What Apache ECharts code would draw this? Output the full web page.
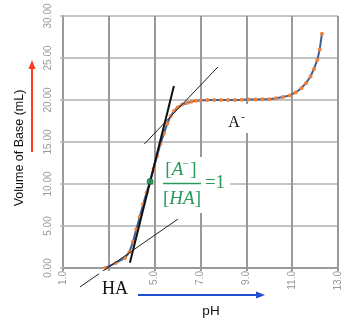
<!DOCTYPE html>
<html>
<head>
<meta charset="utf-8">
<script src="https://cdn.jsdelivr.net/npm/echarts/dist/echarts.min.js"></script>
<style>
  html, body { margin: 0; padding: 0; background: #fff; }
  #chart { width: 346px; height: 322px; }
</style>
</head>
<body>
<div id="chart"></div>
<script>
// titration curve, drawn pH across / volume up
var phValues = [2.85, 3.3, 3.7, 3.9, 4.05, 4.2, 4.35, 4.5, 4.65, 4.8, 4.95, 5.1, 5.25, 5.4, 5.55, 5.7, 5.85, 6.0, 6.2, 6.4, 6.6, 6.8, 7.0, 7.3, 7.6, 7.9, 8.2, 8.5, 8.8, 9.1, 9.4, 9.7, 10.0, 10.3, 10.6, 10.9, 11.15, 11.4, 11.6, 11.8, 11.95, 12.1, 12.2, 12.3];
var volValues = [0.0, 0.6, 1.2, 1.9, 3.1, 4.6, 6.1, 7.6, 9.0, 10.3, 11.8, 13.3, 14.8, 16.0, 17.2, 18.1, 18.7, 19.1, 19.45, 19.65, 19.8, 19.9, 19.95, 20.0, 20.0, 20.0, 20.0, 20.0, 20.02, 20.05, 20.05, 20.1, 20.1, 20.2, 20.35, 20.55, 20.9, 21.4, 22.0, 22.8, 23.7, 24.8, 26.0, 27.9];

// tangent / guide lines [pH, mL]
var steepLine = [[3.92, 0.63], [5.84, 21.67]];
var lowerTangent = [[1.74, -2.26], [6.02, 5.83]];
var upperTangent = [[4.55, 14.76], [7.76, 23.93]];
var halfEqPoint = [[4.8, 10.3]];

var xTicks = { min: 1, max: 13, step: 2 };
var yTicks = { min: 0, max: 30, step: 5 };

var green = '#2a9a5c';
var serif = '"Liberation Serif", "DejaVu Serif", serif';

var curveData = phValues.map(function(p, i) { return [p, volValues[i]]; });

var chart = echarts.init(document.getElementById('chart'));
chart.setOption({
  animation: false,
  grid: { left: 63, right: 8, top: 16, bottom: 54 },
  xAxis: {
    type: 'value',
    min: xTicks.min,
    max: xTicks.max,
    interval: xTicks.step,
    axisLine: { show: true, lineStyle: { color: '#9a9a9a', width: 2 } },
    axisTick: { show: true, length: 3, lineStyle: { color: '#9a9a9a', width: 2 } },
    axisLabel: {
      rotate: 90,
      margin: 3,
      color: '#999',
      fontSize: 10,
      fontFamily: 'Liberation Sans, Arial, sans-serif',
      formatter: function(v) { return v.toFixed(1); }
    },
    splitLine: { show: true, lineStyle: { color: '#9a9a9a', width: 2 } }
  },
  yAxis: {
    type: 'value',
    min: yTicks.min,
    max: yTicks.max,
    interval: yTicks.step,
    axisLine: { show: true, lineStyle: { color: '#9a9a9a', width: 2 } },
    axisTick: { show: true, length: 3, lineStyle: { color: '#c4c4c4', width: 2 } },
    axisLabel: {
      rotate: 90,
      margin: 10,
      color: '#999',
      fontSize: 10,
      fontFamily: 'Liberation Sans, Arial, sans-serif',
      formatter: function(v) { return v.toFixed(2); }
    },
    splitLine: { show: true, lineStyle: { color: '#c4c4c4', width: 2 } }
  },
  series: [
    {
      type: 'line',
      data: curveData,
      symbol: 'circle',
      symbolSize: 4,
      showSymbol: true,
      lineStyle: { color: '#3d5f91', width: 2 },
      itemStyle: { color: '#f0803c' },
      z: 3
    },
    {
      type: 'line',
      data: steepLine,
      symbol: 'none',
      clip: false,
      lineStyle: { color: '#111', width: 2 },
      z: 4
    },
    {
      type: 'line',
      data: lowerTangent,
      symbol: 'none',
      clip: false,
      lineStyle: { color: '#222', width: 1 },
      z: 4
    },
    {
      type: 'line',
      data: upperTangent,
      symbol: 'none',
      clip: false,
      lineStyle: { color: '#222', width: 1 },
      z: 4
    },
    {
      type: 'scatter',
      data: halfEqPoint,
      symbolSize: 6,
      itemStyle: { color: '#1fa463', borderColor: '#0d5a34', borderWidth: 1 },
      z: 5
    }
  ],
  graphic: [
    // white boxes behind the labels (hide gridlines)
    { type: 'rect', z: 1, shape: { x: 156, y: 157, width: 74, height: 56 }, style: { fill: '#fff' } },
    { type: 'rect', z: 1, shape: { x: 216, y: 104, width: 36, height: 29 }, style: { fill: '#fff' } },
    { type: 'rect', z: 10, shape: { x: 99, y: 271, width: 33, height: 28 }, style: { fill: '#fff' } },

    // y axis title + red arrow
    {
      type: 'text', z: 10, x: 20, y: 148, rotation: Math.PI / 2,
      style: { text: 'Volume of Base (mL)', fill: '#111', font: '12.5px "Liberation Sans", Arial, sans-serif', align: 'center', verticalAlign: 'middle' }
    },
    { type: 'polyline', z: 10, shape: { points: [[32, 152], [32, 67]] }, style: { stroke: '#ff3b1f', lineWidth: 2 } },
    { type: 'polygon', z: 10, shape: { points: [[32, 60], [28.5, 69], [35.5, 69]] }, style: { fill: '#ff3b1f' } },

    // x axis title + blue arrow
    {
      type: 'text', z: 10, x: 211, y: 311,
      style: { text: 'pH', fill: '#111', font: '13.5px "Liberation Sans", Arial, sans-serif', align: 'center', verticalAlign: 'middle' }
    },
    { type: 'polyline', z: 10, shape: { points: [[138, 295], [257, 295]] }, style: { stroke: '#1f4ecf', lineWidth: 2 } },
    { type: 'polygon', z: 10, shape: { points: [[265, 295], [256, 291.5], [256, 298.5]] }, style: { fill: '#1f4ecf' } },

    // HA / A- labels
    {
      type: 'text', z: 11, x: 115, y: 289,
      style: { text: 'HA', fill: '#111', font: '18px ' + serif, align: 'center', verticalAlign: 'middle' }
    },
    {
      type: 'text', z: 11, x: 234, y: 123,
      style: { text: 'A', fill: '#111', font: '16px ' + serif, align: 'center', verticalAlign: 'middle' }
    },
    {
      type: 'text', z: 11, x: 243, y: 117,
      style: { text: '-', fill: '#111', font: '11px ' + serif, align: 'center', verticalAlign: 'middle' }
    },

    // [A-]/[HA] = 1
    {
      type: 'text', z: 11, x: 181, y: 170,
      style: {
        text: '{b|[}{i|A}{g| }{b|]}', align: 'center', verticalAlign: 'middle',
        rich: {
          b: { fill: green, font: '19px ' + serif },
          i: { fill: green, font: 'italic 19px ' + serif },
          g: { fill: green, font: '19px ' + serif, width: 7 }
        }
      }
    },
    {
      type: 'text', z: 11, x: 186, y: 164,
      style: { text: '\u2212', fill: green, font: '12px ' + serif, align: 'center', verticalAlign: 'middle' }
    },
    { type: 'polyline', z: 11, shape: { points: [[163, 183.5], [201, 183.5]] }, style: { stroke: green, lineWidth: 1.3 } },
    {
      type: 'text', z: 11, x: 182, y: 199,
      style: {
        text: '{b|[}{i|HA}{b|]}', align: 'center', verticalAlign: 'middle',
        rich: {
          b: { fill: green, font: '19px ' + serif },
          i: { fill: green, font: 'italic 19px ' + serif }
        }
      }
    },
    {
      type: 'text', z: 11, x: 215, y: 183,
      style: { text: '=1', fill: green, font: '19px ' + serif, align: 'center', verticalAlign: 'middle' }
    }
  ]
});
</script>
</body>
</html>
